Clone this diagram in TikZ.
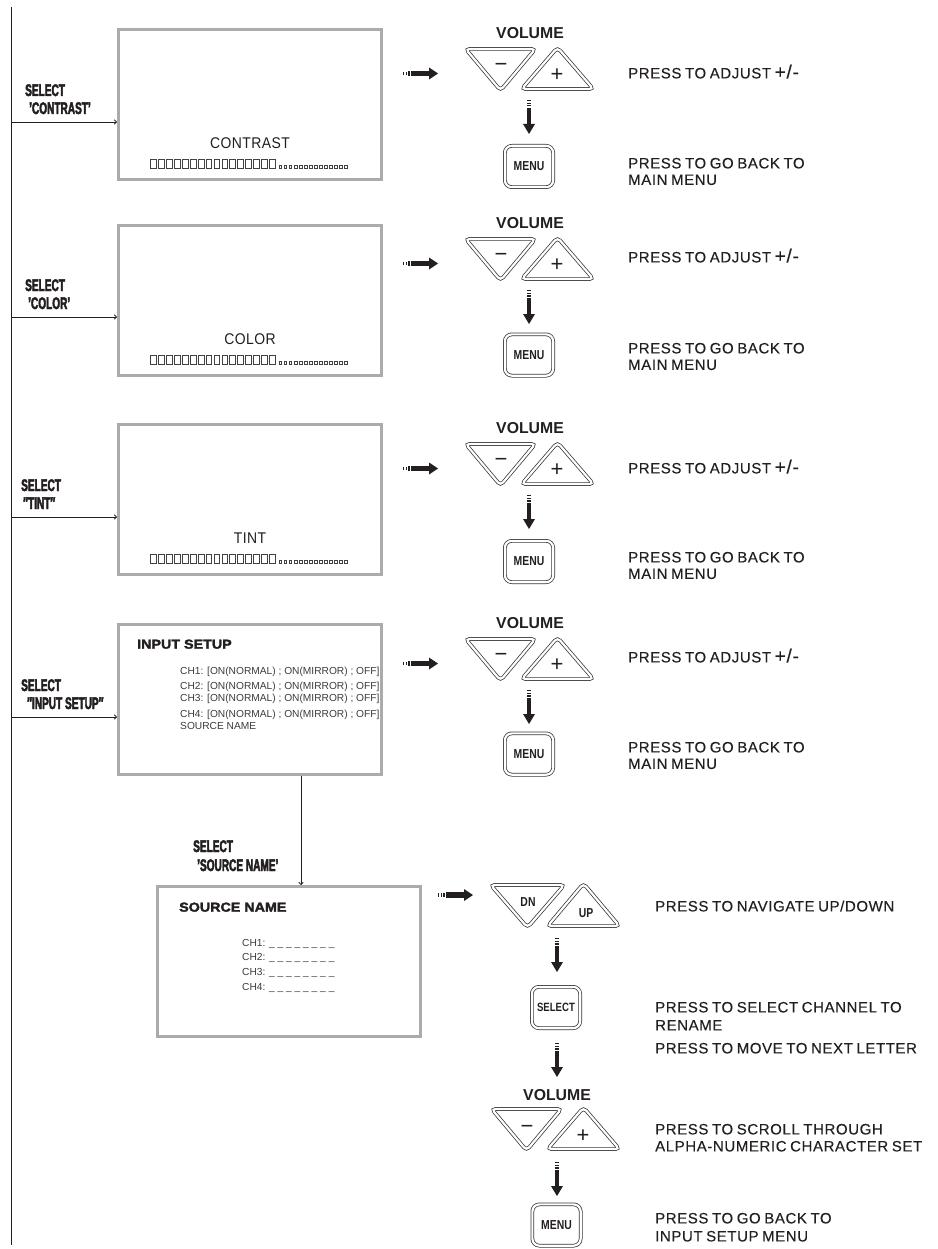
\documentclass[tikz,border=0pt]{standalone}
\usepackage{fontspec}
\setmainfont{Liberation Sans}
\newfontfamily\pressfont{Liberation Sans}[LetterSpace=4,WordSpace=0.75,FakeBold=0.3]
\newfontfamily\scrfont{Liberation Sans}[FakeStretch=0.9,LetterSpace=3]
\newfontfamily\heavyfont{Liberation Sans}[BoldFeatures={FakeBold=2.6,FakeStretch=0.6}]
\newfontfamily\btnfont{Liberation Sans}[BoldFeatures={FakeStretch=0.8}]
\newfontfamily\titlefont{Liberation Sans}[BoldFeatures={FakeBold=2.2,FakeStretch=1.1}]
\usetikzlibrary{arrows.meta}
\definecolor{scr}{HTML}{ABABAB}
\definecolor{ink}{HTML}{231F20}
\definecolor{chgray}{HTML}{3C3C3C}

\tikzset{
  screen/.style={draw=scr, line width=3pt, fill=white, inner sep=0pt, minimum width=263pt, minimum height=150pt},
  conn/.style={draw=ink, line width=0.8pt, -{To[length=3pt,width=5pt]}},
  trunkline/.style={draw=ink, line width=1pt},
  sellabel/.style={anchor=base west, inner sep=0pt, font=\heavyfont\bfseries\fontsize{16.8}{16}\selectfont, text=ink},
  press/.style={anchor=base west, inner sep=0pt, font=\pressfont\fontsize{15}{15}\selectfont, text=ink},
  scrtitle/.style={anchor=base, inner sep=0pt, font=\scrfont\fontsize{15.5}{15}\selectfont, text=ink},
  vol/.style={anchor=base, inner sep=0pt, font=\bfseries\fontsize{15.8}{15}\selectfont, text=ink},
  btn/.style={draw=ink!90, double=white, double distance=2.2pt, line width=0.75pt, rounded corners=7pt, minimum width=48.3pt, minimum height=41.3pt, inner sep=0pt, font=\btnfont\bfseries\fontsize{13}{13}\selectfont, text=ink},
  tri/.style={draw=ink!90, double=white, double distance=2.2pt, line width=0.75pt, rounded corners=4pt},
  sign/.style={anchor=base, inner sep=0pt, font=\fontsize{22}{22}\selectfont, text=ink},
  trilab/.style={anchor=base, inner sep=0pt, font=\btnfont\bfseries\fontsize{13}{13}\selectfont, text=ink},
  chline/.style={anchor=base west, inner sep=0pt, font=\fontsize{10.2}{10}\selectfont, text=chgray},
  boxtitle/.style={anchor=base west, inner sep=0pt, font=\titlefont\bfseries\fontsize{13}{13}\selectfont, text=ink},
  harr/.pic={
    \fill[ink] (0,-1.6) rectangle (1.3,1.6);
    \fill[ink] (2.7,-1.9) rectangle (4.0,1.9);
    \fill[ink] (5.4,-2.2) rectangle (6.8,2.2);
    \fill[ink] (8.2,-2.6) rectangle (26.5,2.6);
    \fill[ink] (26,-6) -- (35,0) -- (26,6) -- cycle;
  },
  varr/.pic={
    \fill[ink] (-1.6,0) rectangle (1.6,1.2);
    \fill[ink] (-1.9,2.6) rectangle (1.9,3.8);
    \fill[ink] (-2.2,5.2) rectangle (2.2,6.5);
    \fill[ink] (-2.4,7.9) rectangle (2.4,24.5);
    \fill[ink] (-6,24) -- (6,24) -- (0,34) -- cycle;
  },
  lcdbar/.pic={
    \foreach \i in {0,...,15}
      \draw[line width=0.85pt, draw=ink!85] ({\i*7.93+0.6},-4.3) rectangle ({\i*7.93+6.4},4.3);
    \foreach \i in {0,...,13}
      \draw[line width=0.6pt, draw=ink!85] ({128.8+\i*5.07},0.9) rectangle ({131.6+\i*5.07},3.9);
  }
}

% screen frame + left connector + labels
\newcommand\screenrow[6]{%
  \node[screen] (box#1) at (250,{#2+76.5}) {};
  \coordinate (j#1) at (11,#3);
  \draw[conn] (j#1) -- (j#1 -| box#1.west);
  \node[sellabel] (sa#1) at (#5,{#3-32+6}) {SELECT};
  \node[sellabel] (sb#1) at (#6,{#3-14+6}) {#4};
}
\newcommand\scrtext[3]{%
  \node[scrtitle] (t#1) at (250,{#2+115+5.6}) {#3};
  \pic at (150,{#2+136}) {lcdbar};
}
% volume triangle pair: dx, top
\newcommand\voltri[2]{%
  \draw[tri] ({465.6+#1},{#2+1.9}) -- ({535.4+#1},{#2+1.9}) -- ({500.5+#1},{#2+43.5}) -- cycle;
  \draw[tri] ({521.6+#1},{#2+42.1}) -- ({593.4+#1},{#2+42.1}) -- ({557.5+#1},{#2+0.5}) -- cycle;
}
\newcommand\volrow[5]{%
  \node[vol] (v#1) at (530,{#2+5.6}) {VOLUME};
  \voltri{0}{#2+14}
  \node[sign] (mi#1) at (501,{#2+31+7.8}) {−};
  \node[sign] (pl#1) at (557,{#2+41+7.8}) {+};
  \pic at (403,{#2+40.5}) {harr};
  \pic at (529,{#2+67}) {varr};
  \node[btn] (m#1) at (529,#4) {MENU};
  \node[press] (pa#1) at (628,{#3+5.4}) {PRESS TO ADJUST {\fontsize{19}{19}\selectfont +/-}};
  \node[press] (pb#1) at (628,{#5+5.4}) {PRESS TO GO BACK TO};
  \node[press] (pc#1) at (628,{#5+16.5+5.4}) {MAIN MENU};
}

\begin{document}
\begin{tikzpicture}[x=1pt,y=-1pt]
\useasboundingbox (0,0) rectangle (937,1249);

% trunk
\coordinate (ttop) at (11,7);
\coordinate (tbot) at (11,1245);
\draw[trunkline] (ttop) -- (tbot);

% rows
\screenrow{1}{28}{122}{’CONTRAST’}{25}{29}
\scrtext{1}{28}{CONTRAST}
\volrow{1}{33}{73}{166.5}{163}

\screenrow{2}{224}{317}{’COLOR’}{25}{28}
\scrtext{2}{224}{COLOR}
\volrow{2}{223}{257}{355}{348}

\screenrow{3}{423}{517}{″TINT″}{21}{23}
\scrtext{3}{423}{TINT}
\volrow{3}{428}{468}{561.5}{557}

\screenrow{4}{623}{717}{″INPUT SETUP″}{21}{27}
\volrow{4}{623}{657}{754}{747}
\node[boxtitle] (ist) at (137,{644+4.65}) {INPUT SETUP};
\node[chline] (c1) at (180,{671+3.65}) {CH1: [ON(NORMAL) ; ON(MIRROR) ; OFF]};
\node[chline] (c2) at (180,{686+3.65}) {CH2: [ON(NORMAL) ; ON(MIRROR) ; OFF]};
\node[chline] (c3) at (180,{698+3.65}) {CH3: [ON(NORMAL) ; ON(MIRROR) ; OFF]};
\node[chline] (c4) at (180,{714+3.65}) {CH4: [ON(NORMAL) ; ON(MIRROR) ; OFF]};
\node[chline] (c5) at (180,{726+3.65}) {SOURCE NAME};

% source name screen
\node[screen] (src) at (288.5,961.5) {};
\coordinate (vx) at (301,0);
\draw[conn] (box4.south -| vx) -- (src.north -| vx);
\node[sellabel] (ssa) at (193,{846+6}) {SELECT};
\node[sellabel] (ssb) at (197,{865+6}) {’SOURCE NAME’};
\node[boxtitle] (snt) at (179,{907+4.65}) {SOURCE NAME};
\node[chline] (s1) at (242,{943+3.65}) {CH1: \_ \_ \_ \_ \_ \_ \_ \_};
\node[chline] (s2) at (242,{957+3.65}) {CH2: \_ \_ \_ \_ \_ \_ \_ \_};
\node[chline] (s3) at (242,{972+3.65}) {CH3: \_ \_ \_ \_ \_ \_ \_ \_};
\node[chline] (s4) at (242,{987+3.65}) {CH4: \_ \_ \_ \_ \_ \_ \_ \_};

% navigation buttons
\pic at (438,895) {harr};
\draw[tri] (490.6,884.9) -- (564.4,884.9) -- (527.5,927.5) -- cycle;
\draw[tri] (547.6,926.1) -- (619.4,926.1) -- (583.5,883.5) -- cycle;
\node[trilab] (dn) at (528,{902+4.65}) {DN};
\node[trilab] (up) at (586,{913+4.65}) {UP};
\node[press] (nav) at (655,{906+5.4}) {PRESS TO NAVIGATE UP/DOWN};
\pic at (557,938) {varr};
\node[btn, font=\btnfont\bfseries\fontsize{12}{12}\selectfont] (selb) at (556,1007.5) {SELECT};
\node[press] (q1) at (655,{1007+5.4}) {PRESS TO SELECT CHANNEL TO};
\node[press] (q2) at (655,{1025+5.4}) {RENAME};
\node[press] (q3) at (655,{1048+5.4}) {PRESS TO MOVE TO NEXT LETTER};
\pic at (557,1043) {varr};
\node[vol] (v5) at (557,{1095+5.6}) {VOLUME};
\voltri{26}{1107}
\node[sign] (mi5) at (527,{1126+7.8}) {−};
\node[sign] (pl5) at (583,{1135+7.8}) {+};
\node[press] (q4) at (655,{1129+5.4}) {PRESS TO SCROLL THROUGH};
\node[press] (q5) at (655,{1146+5.4}) {ALPHA-NUMERIC CHARACTER SET};
\pic at (557,1162) {varr};
\node[btn] (m5) at (556.5,1225) {MENU};
\node[press] (q6) at (655,{1218+5.4}) {PRESS TO GO BACK TO};
\node[press] (q7) at (655,{1236+5.4}) {INPUT SETUP MENU};
\end{tikzpicture}
\end{document}
